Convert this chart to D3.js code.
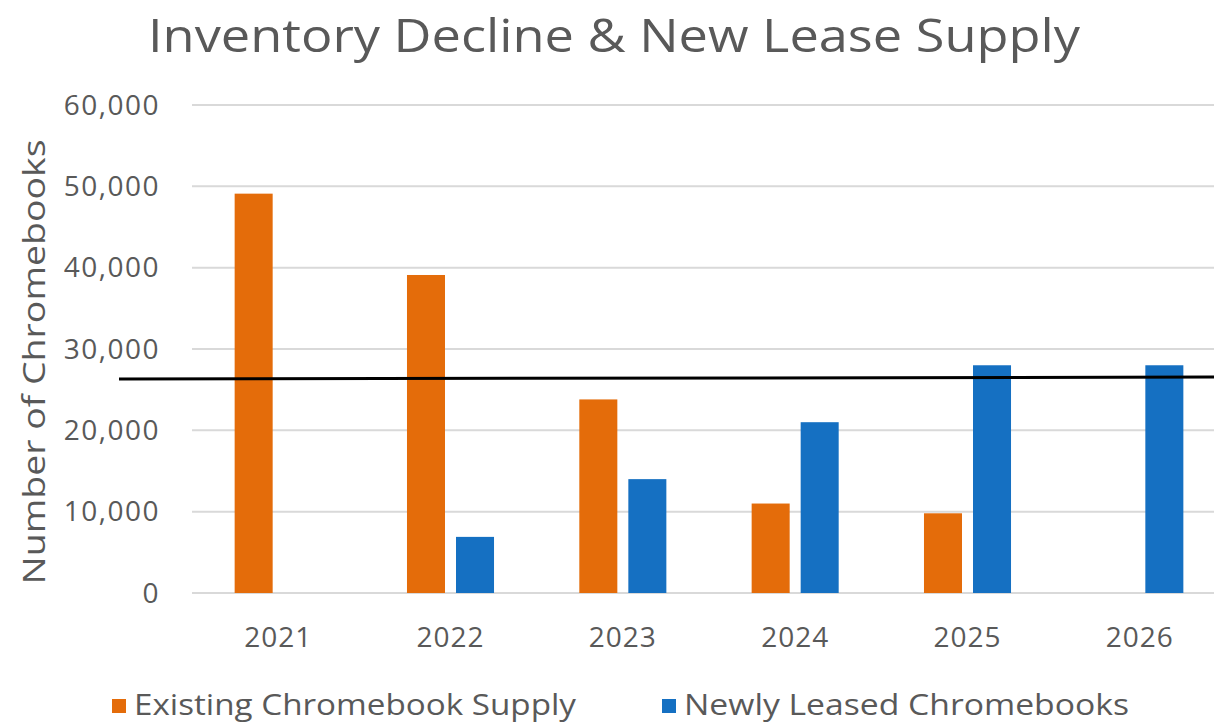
<!DOCTYPE html>
<html>
<head>
<meta charset="utf-8">
<script src="https://cdn.jsdelivr.net/npm/d3@7"></script>
<style>
  body { margin: 0; background: #fff; }
  text { font-family: "Century Gothic", "Open Sans", "Noto Sans", sans-serif; fill: #595959; }
</style>
</head>
<body>
<div id="chart"></div>
<script>
const years = ["2021", "2022", "2023", "2024", "2025", "2026"];
const seriesNames = ["Existing Chromebook Supply", "Newly Leased Chromebooks"];
const existingSupply = [49100, 39100, 23800, 11000, 9800, 0];
const newlyLeased = [0, 6900, 14000, 21000, 28000, 28000];
const yTicks = [0, 10000, 20000, 30000, 40000, 50000, 60000];
const needLine = [26300, 26550]; // black reference line, left end / right end
const colors = ["#E46C0A", "#1570C2"];

const width = 1214, height = 723;
const svg = d3.select("#chart").append("svg")
  .attr("width", width)
  .attr("height", height);

const x0 = d3.scaleBand().domain(years).range([192, 1226]).paddingInner(0).paddingOuter(0);
const x1 = d3.scaleBand().domain(seriesNames).range([0, x0.bandwidth()])
  .paddingInner(0.2245).paddingOuter(0.87);
const y = d3.scaleLinear().domain([0, 60000]).range([593, 105]);

// gridlines
svg.append("g")
  .selectAll("line")
  .data(yTicks)
  .join("line")
  .attr("x1", 192).attr("x2", width)
  .attr("y1", d => y(d)).attr("y2", d => y(d))
  .attr("stroke", "#d9d9d9")
  .attr("stroke-width", 2);

// y tick labels
svg.append("g")
  .selectAll("text")
  .data(yTicks)
  .join("text")
  .attr("x", 160)
  .attr("y", d => y(d))
  .attr("dy", "0.35em")
  .attr("text-anchor", "end")
  .attr("font-size", 28)
  .attr("letter-spacing", 1.5)
  .text(d => d3.format(",")(d));

// x labels
svg.append("g")
  .selectAll("text")
  .data(years)
  .join("text")
  .attr("x", d => x0(d) + x0.bandwidth() / 2)
  .attr("y", 647)
  .attr("text-anchor", "middle")
  .attr("font-size", 28)
  .attr("letter-spacing", 1)
  .text(d => d);

// bars
const rows = years.map((yr, i) => ({ year: yr, values: [existingSupply[i], newlyLeased[i]] }));
const groups = svg.append("g")
  .selectAll("g")
  .data(rows)
  .join("g")
  .attr("transform", d => "translate(" + x0(d.year) + ",0)");

groups.selectAll("rect")
  .data(d => d.values.map((v, j) => ({ key: seriesNames[j], value: v, idx: j })))
  .join("rect")
  .attr("x", d => x1(d.key))
  .attr("width", x1.bandwidth())
  .attr("y", d => y(d.value))
  .attr("height", d => y(0) - y(d.value))
  .attr("fill", d => colors[d.idx]);

// black reference line across the plot
svg.append("line")
  .attr("x1", x0.range()[0] - 73)
  .attr("x2", width)
  .attr("y1", y(needLine[0]))
  .attr("y2", y(needLine[1]))
  .attr("stroke", "#000")
  .attr("stroke-width", 3);

// title
svg.append("text")
  .attr("x", 614)
  .attr("y", 52)
  .attr("text-anchor", "middle")
  .attr("font-size", 46)
  .attr("textLength", 932)
  .attr("lengthAdjust", "spacingAndGlyphs")
  .text("Inventory Decline & New Lease Supply");

// y axis title
svg.append("text")
  .attr("transform", "translate(45,362) rotate(-90)")
  .attr("text-anchor", "middle")
  .attr("font-size", 31)
  .attr("textLength", 445)
  .attr("lengthAdjust", "spacingAndGlyphs")
  .text("Number of Chromebooks");

// legend
const legendItems = [
  { name: seriesNames[0], color: colors[0], x: 112, w: 442 },
  { name: seriesNames[1], color: colors[1], x: 662, w: 445 }
];
const lg = svg.append("g")
  .selectAll("g")
  .data(legendItems)
  .join("g")
  .attr("transform", d => "translate(" + d.x + ",0)");
lg.append("rect")
  .attr("x", 0).attr("y", 699)
  .attr("width", 14).attr("height", 14)
  .attr("fill", d => d.color);
lg.append("text")
  .attr("x", 22)
  .attr("y", 715)
  .attr("font-size", 30)
  .attr("textLength", d => d.w)
  .attr("lengthAdjust", "spacingAndGlyphs")
  .text(d => d.name);
</script>
</body>
</html>
